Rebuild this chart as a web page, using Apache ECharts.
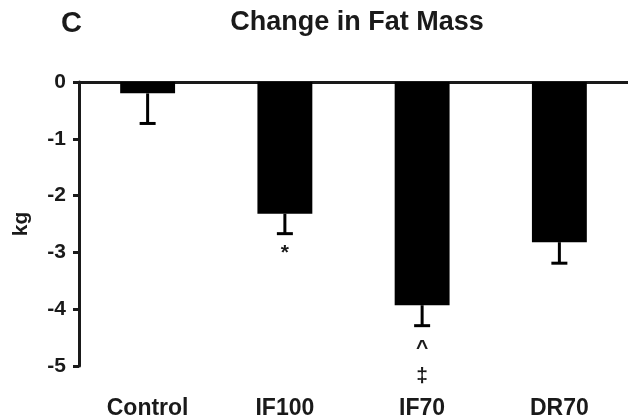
<!DOCTYPE html>
<html>
<head>
<meta charset="utf-8">
<script src="https://cdn.jsdelivr.net/npm/echarts@6/dist/echarts.min.js"></script>
<style>
  html, body { margin: 0; padding: 0; background: #fff; }
  #chart { width: 628px; height: 420px; }
</style>
</head>
<body>
<div id="chart"></div>
<script>
// groups and mean change in fat mass (kg)
var groups = ['Control', 'IF100', 'IF70', 'DR70']
var meanChange = [-0.2, -2.32, -3.93, -2.82]
// lower end of the error bars
var errorEnd = [-0.73, -2.67, -4.29, -3.19]
// significance marks under each bar
var marks = ['', '*', '^\n‡', '']
var yTicks = [0, -1, -2, -3, -4, -5]

var font = '"Liberation Sans", Arial, sans-serif'
var ink = '#1a1a1a'

var chart = echarts.init(document.getElementById('chart'))

var option = {
  backgroundColor: '#fff',
  animation: false,
  title: [
    {
      text: 'C',
      left: 56,
      top: 4,
      textStyle: { fontFamily: font, fontWeight: 'bold', fontSize: 29, color: ink }
    },
    {
      text: 'Change in Fat Mass',
      left: 352,
      textAlign: 'center',
      top: 4,
      textStyle: { fontFamily: font, fontWeight: 'bold', fontSize: 27, color: ink }
    }
  ],
  grid: {
    left: 79,
    top: 82,
    bottom: 53,
    right: -7
  },
  xAxis: [
    {
      // category labels along the bottom
      type: 'category',
      data: groups,
      position: 'bottom',
      axisLine: { show: false, onZero: false },
      axisTick: { show: false },
      axisLabel: {
        margin: 31,
        fontFamily: font,
        fontWeight: 'bold',
        fontSize: 23,
        color: ink
      }
    },
    {
      // the zero line at the top
      type: 'category',
      data: groups,
      position: 'top',
      axisLine: { show: true, onZero: false, lineStyle: { color: ink, width: 3 } },
      axisTick: { show: false },
      axisLabel: { show: false }
    }
  ],
  yAxis: {
    type: 'value',
    min: -5,
    max: 0,
    interval: 1,
    name: 'kg',
    nameLocation: 'middle',
    nameGap: 47,
    nameRotate: 90,
    nameTextStyle: { fontFamily: font, fontWeight: 'bold', fontSize: 21, color: ink },
    splitLine: { show: false },
    axisLine: { show: true, lineStyle: { color: ink, width: 3 } },
    axisTick: { show: true, length: 6, lineStyle: { color: ink, width: 3 } },
    axisLabel: {
      margin: 13,
      fontFamily: font,
      fontWeight: 'bold',
      fontSize: 21,
      color: ink,
      formatter: function (v) {
        return yTicks.indexOf(v) >= 0 ? String(v) : ''
      }
    }
  },
  series: [
    {
      type: 'bar',
      data: meanChange,
      barWidth: '40%',
      itemStyle: { color: '#000' }
    },
    {
      type: 'custom',
      data: groups.map(function (g, i) { return [i, meanChange[i], errorEnd[i]] }),
      renderItem: function (params, api) {
        var i = api.value(0)
        var top = api.coord([i, api.value(1)])
        var bottom = api.coord([i, api.value(2)])
        var half = 8
        var children = [
          {
            type: 'line',
            shape: { x1: top[0], y1: top[1], x2: bottom[0], y2: bottom[1] },
            style: { stroke: '#000', lineWidth: 3 }
          },
          {
            type: 'line',
            shape: { x1: bottom[0] - half, y1: bottom[1], x2: bottom[0] + half, y2: bottom[1] },
            style: { stroke: '#000', lineWidth: 3 }
          }
        ]
        var mark = marks[params.dataIndex]
        if (mark) {
          children.push({
            type: 'text',
            x: bottom[0],
            y: bottom[1] + (mark === '*' ? 6 : 9),
            style: {
              text: mark,
              fill: ink,
              font: 'bold 21px ' + font,
              align: 'center',
              verticalAlign: 'top',
              lineHeight: 28
            }
          })
        }
        return { type: 'group', children: children }
      },
      z: 3
    }
  ]
}

chart.setOption(option)
</script>
</body>
</html>
